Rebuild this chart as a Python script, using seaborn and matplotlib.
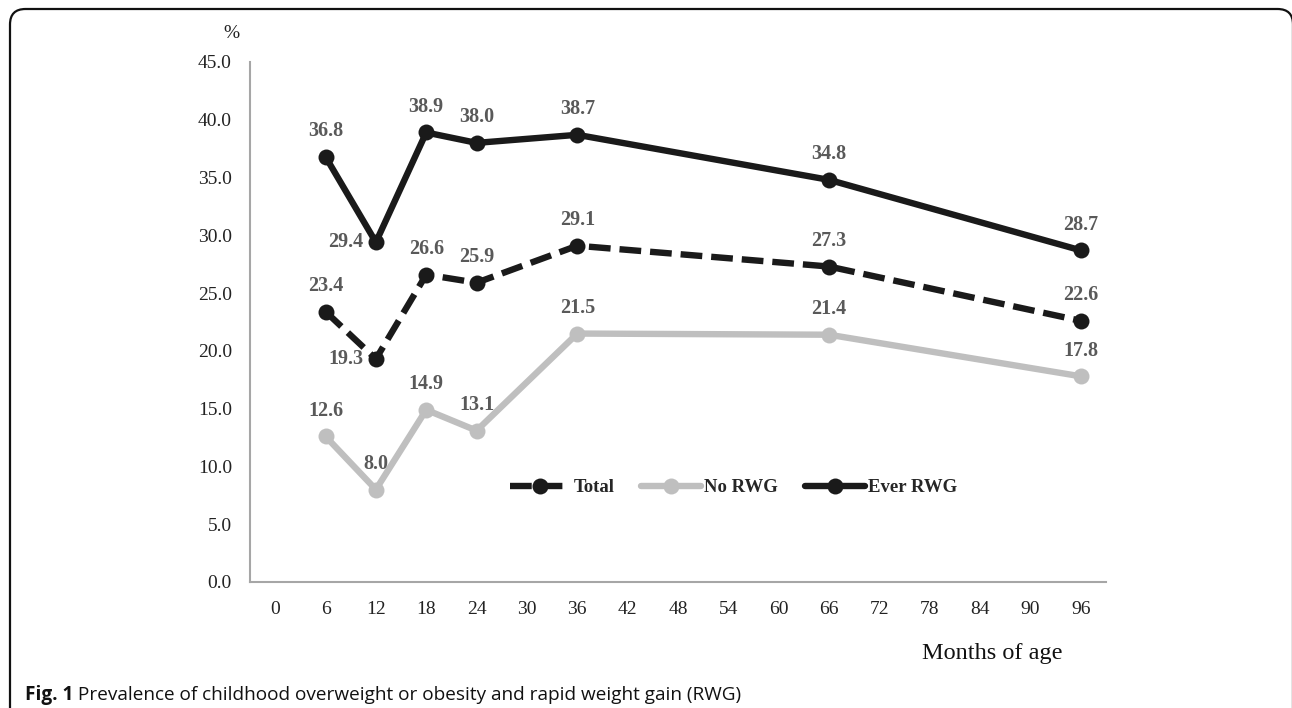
import matplotlib
matplotlib.use("Agg")
import matplotlib.pyplot as plt
import seaborn as sns
import pandas as pd
from matplotlib.patches import FancyBboxPatch

months = [6, 12, 18, 24, 36, 66, 96]
total = [23.4, 19.3, 26.6, 25.9, 29.1, 27.3, 22.6]
no_rwg = [12.6, 8.0, 14.9, 13.1, 21.5, 21.4, 17.8]
ever_rwg = [36.8, 29.4, 38.9, 38.0, 38.7, 34.8, 28.7]
series_names = ["Total", "No RWG", "Ever RWG"]
x_ticks = list(range(0, 97, 6))
y_ticks = [0, 5, 10, 15, 20, 25, 30, 35, 40, 45]

df = pd.concat([
    pd.DataFrame({"Months": months, "Value": total, "Group": "Total"}),
    pd.DataFrame({"Months": months, "Value": no_rwg, "Group": "No RWG"}),
    pd.DataFrame({"Months": months, "Value": ever_rwg, "Group": "Ever RWG"}),
], ignore_index=True)

sns.set_style("white")
plt.rcParams["font.family"] = ["Liberation Serif", "DejaVu Serif"]

W, H = 1292, 708
fig = plt.figure(figsize=(W / 100, H / 100), dpi=100)
ax = fig.add_axes([250 / W, 1 - 582 / H, (1106 - 250) / W, (582 - 62) / H])

palette = {"Total": "#1a1a1a", "No RWG": "#bfbfbf", "Ever RWG": "#1a1a1a"}
dashes = {"Total": (3.4, 1.4), "No RWG": "", "Ever RWG": ""}
markers = {"Total": "o", "No RWG": "o", "Ever RWG": "o"}

sns.lineplot(data=df, x="Months", y="Value", hue="Group", style="Group",
             hue_order=series_names, style_order=series_names,
             palette=palette, dashes=dashes, markers=markers,
             linewidth=4.6, markersize=11.5, markeredgewidth=0, ax=ax)

ax.set_xlim(-3, 99)
ax.set_ylim(0, 45)
ax.set_xticks(x_ticks)
ax.set_xticklabels([str(v) for v in x_ticks])
ax.set_yticks(y_ticks)
ax.set_yticklabels([f"{v:.1f}" for v in y_ticks])
ax.tick_params(axis="both", length=0, labelsize=14, colors="#222222")
ax.tick_params(axis="y", pad=13)
ax.tick_params(axis="x", pad=14)
ax.set_xlabel("")
ax.set_ylabel("")
for s in ["top", "right"]:
    ax.spines[s].set_visible(False)
for s in ["left", "bottom"]:
    ax.spines[s].set_color("#a6a6a6")
    ax.spines[s].set_linewidth(1.5)

left_labels = {("Total", 12), ("Ever RWG", 12)}
for name, vals in zip(series_names, [total, no_rwg, ever_rwg]):
    for m, v in zip(months, vals):
        if (name, m) in left_labels:
            ax.annotate(f"{v:.1f}", (m, v), xytext=(-9, 0), textcoords="offset points",
                        ha="right", va="center", fontsize=14.5, fontweight="bold",
                        color="#595959")
        else:
            ax.annotate(f"{v:.1f}", (m, v), xytext=(0, 18.5), textcoords="offset points",
                        ha="center", va="center", fontsize=14.5, fontweight="bold",
                        color="#595959")

handles, labels = ax.get_legend_handles_labels()
leg = ax.legend(handles, labels, loc="center", bbox_to_anchor=(0.565, 0.181),
                ncol=3, frameon=False, handlelength=3.2, handletextpad=0.2,
                columnspacing=1.4, prop={"family": "Liberation Serif", "weight": "bold", "size": 13.5})

fig.text(231 / W, 1 - 33 / H, "%", ha="center", va="center", fontsize=14, color="#222222")
fig.text(992 / W, 1 - 653 / H, "Months of age", ha="center", va="center", fontsize=17.5,
         color="#111111")

t1 = fig.text(25 / W, 1 - 695 / H, "Fig. 1", ha="left", va="center", fontsize=13.7,
              fontweight="bold", family="Open Sans", color="#111111")
ax.annotate(" Prevalence of childhood overweight or obesity and rapid weight gain (RWG)",
            xy=(1, 0.5), xycoords=t1, ha="left", va="center", fontsize=13.7,
            family="Open Sans", color="#111111", annotation_clip=False)

box = FancyBboxPatch((10 / W, -0.05), (1293 - 10) / W, (1 - 9 / H) + 0.05,
                     boxstyle="round,pad=0,rounding_size=0.012",
                     transform=fig.transFigure, fill=False, edgecolor="#111111",
                     linewidth=1.6, mutation_aspect=W / H)
fig.patches.append(box)

fig.savefig("out.png", dpi=100)
